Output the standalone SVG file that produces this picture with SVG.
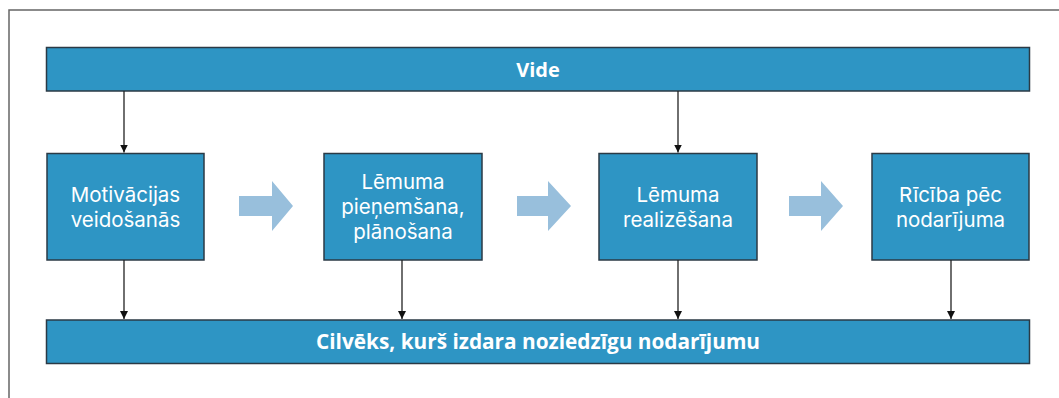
<svg xmlns="http://www.w3.org/2000/svg" width="1059" height="398" viewBox="0 0 1059 398">
<defs>
<style>
.bar{fill:#2E95C4;stroke:#2B3A45;stroke-width:1.5}
.node{fill:#2E95C4;stroke:#2B3A45;stroke-width:1.5}
.t{fill:#fff;font-family:Inter,"Open Sans","Liberation Sans",sans-serif;font-size:20.5px;text-anchor:middle}
.tb{fill:#fff;font-family:"Open Sans","Liberation Sans",sans-serif;font-size:20px;font-weight:bold;text-anchor:middle}
.ln{stroke:#222;stroke-width:1.3;fill:none;marker-end:url(#ah)}
.blk{fill:#98BFDC}
</style>
<marker id="ah" markerWidth="8" markerHeight="8" refX="8" refY="4" orient="auto" markerUnits="userSpaceOnUse" viewBox="0 0 8 8">
<path d="M0,0 L8,4 L0,8 Z" fill="#111"/>
</marker>
</defs>
<rect width="1059" height="398" fill="#fff"/>
<path d="M9,398 L9,10 L1059,10" fill="none" stroke="#666" stroke-width="1.5"/>
<g id="vide"><rect class="bar" x="46.5" y="47.5" width="983" height="43.5"/><text class="tb" x="538" y="76.5">Vide</text></g>
<g id="cilveks"><rect class="bar" x="46.5" y="320" width="983" height="43.5"/><text class="tb" x="538" y="349" style="font-size:20.8px">Cilvēks, kurš izdara noziedzīgu nodarījumu</text></g>
<g id="n1"><rect class="node" x="47" y="153.5" width="157" height="106.5"/><text class="t" x="125.5" y="202">Motivācijas</text><text class="t" x="125.5" y="227">veidošanās</text></g>
<g id="n2"><rect class="node" x="324" y="153.5" width="158" height="106.5"/><text class="t" x="403" y="189">Lēmuma</text><text class="t" x="403" y="214">pieņemšana,</text><text class="t" x="403" y="239">plānošana</text></g>
<g id="n3"><rect class="node" x="599" y="153.5" width="158" height="106.5"/><text class="t" x="678" y="202">Lēmuma</text><text class="t" x="678" y="227">realizēšana</text></g>
<g id="n4"><rect class="node" x="872" y="153.5" width="157" height="106.5"/><text class="t" x="950.5" y="202">Rīcība pēc</text><text class="t" x="950.5" y="227">nodarījuma</text></g>
<g id="connectors">
<path class="ln" d="M124,91 V152.5"/>
<path class="ln" d="M678,91 V152.5"/>
<path class="ln" d="M124,260 V319"/>
<path class="ln" d="M402,260 V319"/>
<path class="ln" d="M678,260 V319"/>
<path class="ln" d="M951,260 V319"/>
<path class="blk" d="M239,196 H272 V181 L293,206 L272,231 V216 H239 Z"/>
<path class="blk" d="M517,196 H548 V181 L571,206 L548,231 V216 H517 Z"/>
<path class="blk" d="M789,196 H821 V181 L843,206 L821,231 V216 H789 Z"/>
</g>
</svg>
